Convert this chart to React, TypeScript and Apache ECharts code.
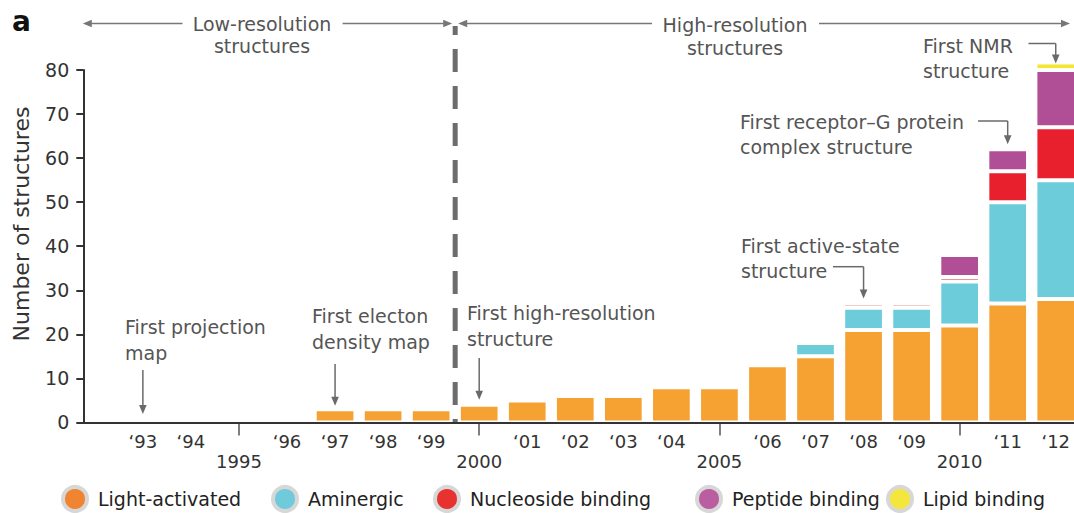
import { useEffect, useRef } from "react";
import * as echarts from "echarts";

// ---------------- data ----------------
const years = [1993, 1994, 1995, 1996, 1997, 1998, 1999, 2000, 2001, 2002, 2003, 2004, 2005, 2006, 2007, 2008, 2009, 2010, 2011, 2012];
const lightActivated = [0, 0, 0, 0, 3, 3, 3, 4, 5, 6, 6, 8, 8, 13, 15, 21, 21, 22, 27, 28];
const aminergic = [0, 0, 0, 0, 0, 0, 0, 0, 0, 0, 0, 0, 0, 0, 3, 5, 5, 10, 23, 27];
const nucleosideBinding = [0, 0, 0, 0, 0, 0, 0, 0, 0, 0, 0, 0, 0, 0, 0, 1, 1, 1, 7, 12];
const peptideBinding = [0, 0, 0, 0, 0, 0, 0, 0, 0, 0, 0, 0, 0, 0, 0, 0, 0, 5, 5, 13];
const lipidBinding = [0, 0, 0, 0, 0, 0, 0, 0, 0, 0, 0, 0, 0, 0, 0, 0, 0, 0, 0, 1];

const seriesNames = ["Light-activated", "Aminergic", "Nucleoside binding", "Peptide binding", "Lipid binding"];
const seriesValues = [lightActivated, aminergic, nucleosideBinding, peptideBinding, lipidBinding];
const barColors = ["#F6A233", "#6DCCD9", "#E8202E", "#B14F96", "#F2E631"];
const legendColors = ["#F08430", "#6FCBDB", "#E8322F", "#BB5DA1", "#F5E63D"];

const markedYears = [1995, 2000, 2005, 2010];
const yMin = 0;
const yMax = 80;
const yInterval = 10;
const yAxisTitle = "Number of structures";
const panelLetter = "a";
const eraBoundaryYear = 1999.5;
const lowResLabel = "Low-resolution\nstructures";
const highResLabel = "High-resolution\nstructures";

const FONT = "'DejaVu Sans', 'Liberation Sans', sans-serif";
const TXT = "#555";
const ARROW = "#6a6a6a";

const yearLabel = (v: number) =>
  markedYears.includes(v) ? `\n${v}` : `\u2018${String(v).slice(2)}`;

// cumulative stack bases, built from the series arrays
const stackBases = seriesValues.map((_, si) =>
  years.map((_, i) => seriesValues.slice(0, si).reduce((s, arr) => s + arr[i], 0))
);
const totals = years.map((_, i) => seriesValues.reduce((s, arr) => s + arr[i], 0));

const BAR_FRACTION = 0.764; // bar width as a fraction of one year
const GAP = 2; // white separation on each side of a segment (px)

export default function App() {
  const ref = useRef<HTMLDivElement>(null);

  useEffect(() => {
    if (!ref.current) return;
    const chart = echarts.init(ref.current, null, { renderer: "svg" });

    const series = seriesNames.map((name, si) => ({
      name,
      type: "custom",
      itemStyle: { color: barColors[si] },
      encode: { x: 0, y: [1, 2] },
      clip: false,
      silent: true,
      renderItem: (_params: any, api: any) => {
        const x = api.value(0);
        const lo = api.coord([x, api.value(1)]);
        const hi = api.coord([x, api.value(2)]);
        const w = api.size([1, 0])[0] * BAR_FRACTION;
        const minH = si === 4 ? 3.5 : 0.4;
        const top = hi[1] + GAP;
        const h = Math.max(lo[1] - GAP - top, minH);
        return {
          type: "rect",
          shape: { x: lo[0] - w / 2, y: si === 4 ? lo[1] - GAP - h : top, width: w, height: h },
          style: { fill: barColors[si] },
        };
      },
      data: years
        .map((y, i) => [y, stackBases[si][i], stackBases[si][i] + seriesValues[si][i]])
        .filter((d) => d[2] > d[1]),
    }));

    const legendCenters = [79, 289, 451, 713, 904];
    const legend = seriesNames.map((name, i) => ({
      data: [
        {
          name,
          itemStyle: { color: legendColors[i], borderColor: "#d7d7d7", borderWidth: 4 },
        },
      ],
      left: legendCenters[i] - 18,
      top: 485,
      padding: 0,
      icon: "circle",
      itemWidth: 36,
      itemHeight: 24,
      selectedMode: false,
      textStyle: { fontSize: 19, color: "#222", fontFamily: FONT },
    }));

    chart.setOption({
      animation: false,
      grid: { left: 83.3, right: 0, top: 70, bottom: 90.6, outerBoundsMode: "none" },
      xAxis: [
        {
          type: "value",
          min: 1991.76,
          max: 2012.38,
          z: 5,
          axisLine: { show: true, onZero: false, lineStyle: { color: "#333", width: 2 } },
          axisTick: { show: false },
          splitLine: { show: false },
          axisLabel: {
            customValues: years,
            formatter: (v: number) => yearLabel(v),
            margin: 9,
            fontSize: 18,
            lineHeight: 20,
            color: "#333",
            fontFamily: FONT,
          },
        },
        {
          type: "value",
          position: "bottom",
          offset: 8,
          min: 1991.76,
          max: 2012.38,
          axisLine: { show: false },
          axisTick: {
            show: true,
            customValues: markedYears,
            length: 13,
            lineStyle: { color: "#555", width: 1.5 },
          },
          axisLabel: { show: false },
          splitLine: { show: false },
        },
      ],
      yAxis: {
        type: "value",
        min: yMin,
        max: yMax,
        interval: yInterval,
        z: 5,
        axisLine: { show: true, lineStyle: { color: "#333", width: 2 } },
        axisTick: { show: true, length: 7, lineStyle: { color: "#333", width: 2 } },
        splitLine: { show: false },
        axisLabel: { fontSize: 19, color: "#333", margin: 14, fontFamily: FONT },
      },
      legend,
      series,
    });

    const px = (x: number, y: number) => chart.convertToPixel({ gridIndex: 0 }, [x, y]) as number[];
    const yPix = (v: number) => px(years[0], v)[1];
    const xPix = (yr: number) => px(yr, 0)[0];
    const totalOf = (yr: number) => totals[years.indexOf(yr)];

    const seg = (x1: number, y1: number, x2: number, y2: number, stroke = ARROW) => ({
      type: "line",
      shape: { x1, y1, x2, y2 },
      style: { stroke, lineWidth: 1.5 },
      silent: true,
    });
    const head = (x: number, y: number, dir: "down" | "left" | "right", fill = ARROW) => {
      const L = 9;
      const W = 3.8;
      const points =
        dir === "down"
          ? [[x - W, y - L], [x + W, y - L], [x, y]]
          : dir === "left"
          ? [[x + L, y - W], [x + L, y + W], [x, y]]
          : [[x - L, y - W], [x - L, y + W], [x, y]];
      return { type: "polygon", shape: { points }, style: { fill }, silent: true };
    };
    const txt = (x: number, y: number, text: string, lineHeight = 26, align = "left") => ({
      type: "text",
      x,
      y,
      silent: true,
      style: { text, fontFamily: FONT, fontSize: 19, fill: TXT, lineHeight, align, verticalAlign: "top" },
    });
    const vArrow = (yr: number, yStart: number, gap: number) => {
      const x = xPix(yr);
      const tip = yPix(totalOf(yr)) - gap;
      return [seg(x, yStart, x, tip - 6), head(x, tip, "down")];
    };
    const elbow = (yr: number, xStart: number, yLine: number, gap: number) => {
      const x = xPix(yr);
      const tip = yPix(totalOf(yr)) - gap;
      return [seg(xStart, yLine, x, yLine), seg(x, yLine, x, tip - 6), head(x, tip, "down")];
    };

    const axisY = yPix(0);
    const xb = xPix(eraBoundaryYear);
    const xLeft = xPix(1991.76);
    const headerY = 23.5;

    const graphic = [
      {
        type: "text",
        x: 12,
        y: 21,
        silent: true,
        style: { text: panelLetter, fontFamily: FONT, fontSize: 28, fontWeight: "bold", fill: "#111", verticalAlign: "middle" },
      },
      {
        type: "text",
        x: 21,
        y: 224,
        rotation: Math.PI / 2,
        silent: true,
        style: { text: yAxisTitle, fontFamily: FONT, fontSize: 22, fill: "#333", align: "center", verticalAlign: "middle" },
      },
      {
        type: "line",
        silent: true,
        shape: { x1: xb, y1: 26, x2: xb, y2: axisY },
        style: { stroke: "#6d6d6d", lineWidth: 5, lineDash: [23, 14], lineDashOffset: 14.3 },
      },
      // era header
      seg(xLeft + 6, headerY, 182.5, headerY, "#777"),
      head(xLeft - 0.5, headerY, "left", "#777"),
      seg(342.6, headerY, xb - 9, headerY, "#777"),
      head(xb - 3, headerY, "right", "#777"),
      txt(262, 12.5, lowResLabel, 22, "center"),
      seg(xb + 9, headerY, 652, headerY, "#777"),
      head(xb + 3, headerY, "left", "#777"),
      seg(819, headerY, 1062, headerY, "#777"),
      head(1070, headerY, "right", "#777"),
      txt(735, 13.5, highResLabel, 23, "center"),
      // annotations
      txt(125, 313.5, "First projection\nmap"),
      ...vArrow(1993, 370, 8.5),
      txt(312, 303, "First electon\ndensity map"),
      ...vArrow(1997, 364, 3.5),
      txt(467, 300, "First high-resolution\nstructure"),
      ...vArrow(2000, 358, 5),
      txt(741, 233.5, "First active-state\nstructure", 25),
      ...elbow(2008, 833, 266.7, 5),
      txt(740, 109, "First receptor\u2013G protein\ncomplex structure", 25),
      ...elbow(2011, 978, 121, 5),
      txt(923, 33.5, "First NMR\nstructure", 25),
      ...elbow(2012, 1028.5, 43.5, 2),
    ];

    chart.setOption({ graphic });

    return () => chart.dispose();
  }, []);

  return (
    <div
      ref={ref}
      style={{ position: "fixed", left: 0, top: 0, width: 1074, height: 513, background: "#fff" }}
    />
  );
}
